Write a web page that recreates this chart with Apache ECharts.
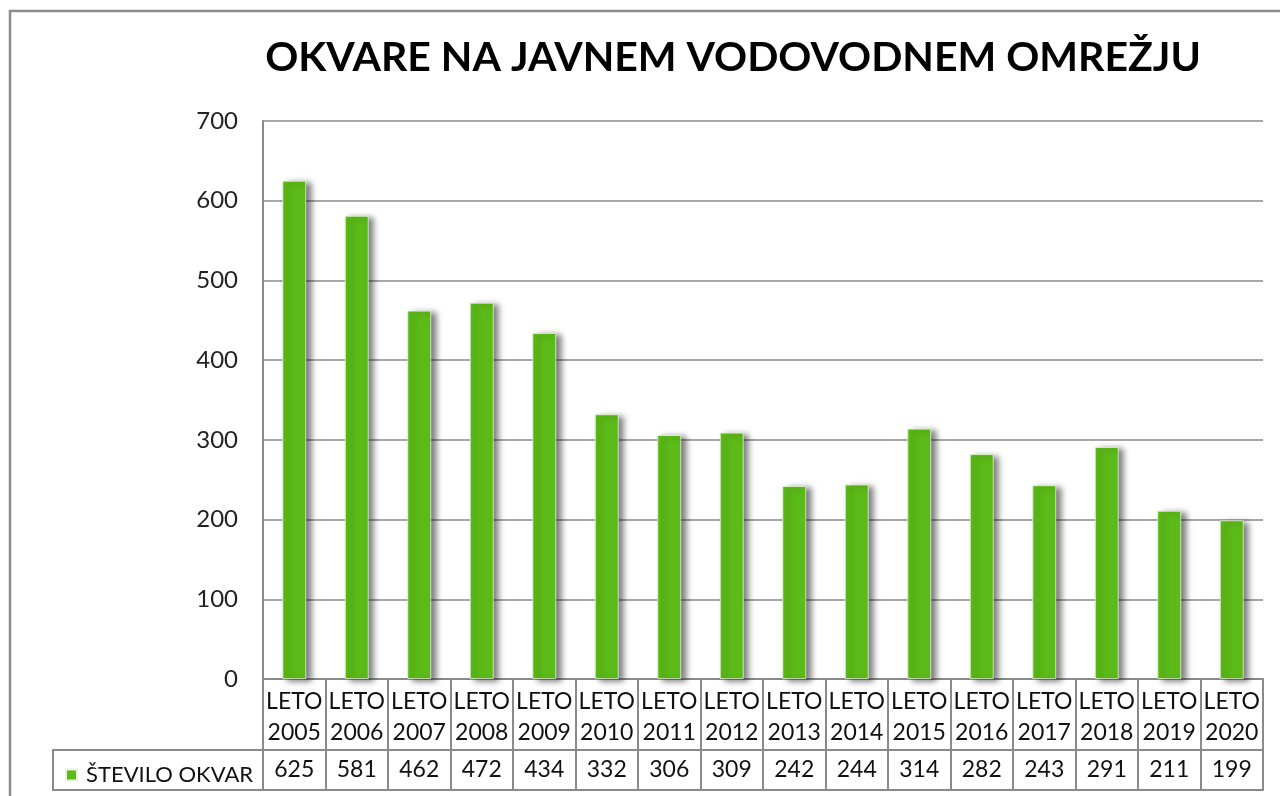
<!DOCTYPE html>
<html>
<head>
<meta charset="utf-8">
<script src="https://cdn.jsdelivr.net/npm/echarts@6/dist/echarts.min.js"></script>
<style>html,body{margin:0;padding:0;background:#fff;}#c{width:1280px;height:796px;}</style>
</head>
<body>
<div id="c"></div>
<script>
var years = ['2005','2006','2007','2008','2009','2010','2011','2012','2013','2014','2015','2016','2017','2018','2019','2020'];
var categoryLabels = years.map(function(y){ return 'LETO\n' + y; });
var seriesName = 'ŠTEVILO OKVAR';
var values = [625, 581, 462, 472, 434, 332, 306, 309, 242, 244, 314, 282, 243, 291, 211, 199];
var yTicks = { min: 0, max: 700, interval: 100 };

var gray = '#8a8a8a';
var FONT = 'Lato';
var chart = echarts.init(document.getElementById('c'));
chart.setOption({
  animation: false,
  backgroundColor: '#fff',
  title: {
    text: 'OKVARE NA JAVNEM VODOVODNEM OMREŽJU',
    left: 728, top: 53, textAlign: 'center', textVerticalAlign: 'middle',
    textStyle: { fontFamily: FONT, fontWeight: 'bold', fontSize: 41, color: '#000' }
  },
  legend: {
    show: true, left: 60, top: 759, itemWidth: 11, itemHeight: 11, itemGap: 0,
    icon: 'rect',
    textStyle: { fontFamily: FONT, fontSize: 22, color: '#111', padding: [0, 0, 0, 4] },
    data: [seriesName]
  },
  graphic: [
    { type: 'rect', shape: { x: 10, y: 11, width: 1300, height: 820 }, style: { fill: 'none', stroke: '#8c8c8c', lineWidth: 2.5 }, silent: true },
    { type: 'rect', shape: { x: 53, y: 750, width: 210, height: 40 }, style: { fill: 'none', stroke: gray, lineWidth: 2 }, silent: true }
  ],
  grid: { left: 263, right: 17, top: 121, bottom: 117 },
  xAxis: [
    {
      type: 'category', data: categoryLabels, position: 'bottom',
      axisLine: { show: true, lineStyle: { color: gray, width: 2 } },
      axisTick: { show: true, length: 111, interval: 0, alignWithLabel: false, lineStyle: { color: gray, width: 2 } },
      axisLabel: { interval: 0, margin: 7, fontFamily: FONT, fontSize: 23, lineHeight: 31, color: '#111' }
    },
    {
      type: 'category', data: values.map(String), position: 'bottom', offset: 71,
      axisLine: { show: true, lineStyle: { color: gray, width: 2 } },
      axisTick: { show: false },
      axisLabel: { interval: 0, margin: 8, fontFamily: FONT, fontSize: 23, color: '#111' }
    },
    {
      type: 'category', data: years, position: 'bottom', offset: 111,
      axisLine: { show: true, lineStyle: { color: gray, width: 2 } },
      axisTick: { show: false }, axisLabel: { show: false }
    }
  ],
  yAxis: {
    type: 'value', min: yTicks.min, max: yTicks.max, interval: yTicks.interval,
    axisLine: { show: true, lineStyle: { color: gray, width: 2 } },
    axisTick: { show: false },
    splitLine: { show: true, lineStyle: { color: gray, width: 1.5 } },
    axisLabel: { margin: 25, fontFamily: FONT, fontSize: 24, color: '#222' }
  },
  series: [{
    name: seriesName, type: 'bar', data: values, barWidth: '38%',
    xAxisIndex: 0,
    itemStyle: {
      color: '#5cbb18', borderColor: '#e8f5dc', borderWidth: 0.8,
      shadowColor: 'rgba(0,0,0,0.5)', shadowBlur: 6, shadowOffsetX: 5, shadowOffsetY: 2
    }
  }]
});
</script>
</body>
</html>
